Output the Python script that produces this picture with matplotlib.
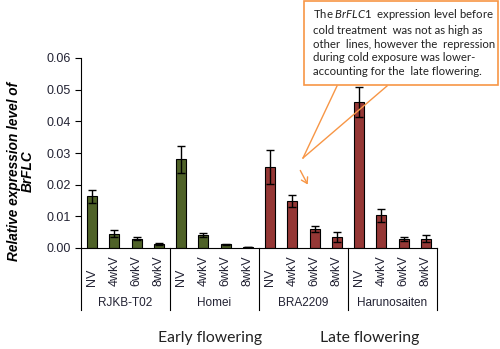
import matplotlib
matplotlib.use("Agg")
import matplotlib.pyplot as plt
import numpy as np
from matplotlib.lines import Line2D
from matplotlib.patches import Rectangle, FancyArrowPatch

plt.rcParams['mathtext.fontset'] = 'custom'
plt.rcParams['mathtext.it'] = 'Lato:italic'
plt.rcParams['mathtext.rm'] = 'Lato'

groups = ["RJKB-T02", "Homei", "BRA2209", "Harunosaiten"]
treatments = ["NV", "4wkV", "6wkV", "8wkV"]
values = [
    [0.0163, 0.0045, 0.0030, 0.0013],
    [0.0280, 0.0042, 0.0012, 0.0003],
    [0.0257, 0.0149, 0.0059, 0.0035],
    [0.0462, 0.0103, 0.0029, 0.0029],
]
errors = [
    [0.0020, 0.0011, 0.0006, 0.0003],
    [0.0043, 0.0006, 0.0002, 0.0001],
    [0.0054, 0.0018, 0.0010, 0.0015],
    [0.0047, 0.0020, 0.0006, 0.0011],
]
group_colors = ["#4F6228", "#4F6228", "#953735", "#953735"]
flowering = ["Early flowering", "Late flowering"]
annotation = ("The $\\it{BrFLC1}$  expression level before\n"
              "cold treatment  was not as high as\n"
              "other  lines, however the  repression\n"
              "during cold exposure was lower-\n"
              "accounting for the  late flowering.")

W, H = 500, 349
fig = plt.figure(figsize=(W/100, H/100), dpi=100)
ax = fig.add_axes([81/W, 1-248/H, (437-81)/W, (248-58)/H])

x = np.arange(16)
vals = np.array(values).ravel()
errs = np.array(errors).ravel()
cols = [c for c in group_colors for _ in treatments]
ax.bar(x, vals, width=0.45, color=cols, edgecolor='black', linewidth=0.8,
       yerr=errs, error_kw=dict(ecolor='black', elinewidth=1, capsize=3, capthick=1))

ax.set_xlim(-0.5, 15.5)
ax.set_ylim(0, 0.06)
ax.set_yticks(np.arange(0, 0.061, 0.01))
ax.set_yticklabels([f"{v:.2f}" for v in np.arange(0, 0.061, 0.01)],
                   fontfamily='Liberation Sans', fontsize=9, color='#222233')
ax.tick_params(axis='y', direction='out', length=4, width=0.8)
ax.set_xticks([])
for s in ['top', 'right']:
    ax.spines[s].set_visible(False)
ax.spines['left'].set_linewidth(0.8)
ax.spines['bottom'].set_linewidth(0.8)

tr = ax.get_xaxis_transform()
labels = [t for _ in groups for t in treatments]
for xi, lab in zip(x, labels):
    ax.text(xi, -0.2, lab, rotation=90, ha='center', va='bottom', fontsize=9,
            fontfamily='Liberation Sans', transform=tr, color='#222233')
for b in np.arange(-0.5, 16, 4):
    ax.add_line(Line2D([b, b], [0, -0.326], transform=tr, color='black',
                       linewidth=0.8, clip_on=False))
for gi, g in enumerate(groups):
    ax.text(gi*4 + 1.5, -0.29, g, ha='center', va='center', fontsize=8.5,
            fontfamily='Liberation Sans', transform=tr, color='#222233')

fig.text(210/W, 1-338/H, flowering[0], ha='center', va='center',
         fontsize=11.3, fontfamily='Lato', color='#222222')
fig.text(370/W, 1-338/H, flowering[1], ha='center', va='center',
         fontsize=11.3, fontfamily='Lato', color='#222222')

fig.text(21/W, 1-171/H, "Relative expression level of\nBrFLC", rotation=90,
         ha='center', va='center', fontsize=9.8, fontweight='bold', style='italic',
         fontfamily='Liberation Sans', linespacing=1.0)

orange = "#F79646"
fig.add_artist(Rectangle((304/W, 1-85/H), (498-304)/W, 84/H, transform=fig.transFigure,
                         facecolor='white', edgecolor=orange, linewidth=1.2))
fig.text(313/W, 1-42/H, annotation, ha='left', va='center', fontsize=8.2,
         fontfamily='Lato', color='#222222', linespacing=1.3)
fig.add_artist(Line2D([337/W, 303/W], [1-86/H, 1-158/H], transform=fig.transFigure,
                      color=orange, linewidth=1))
fig.add_artist(Line2D([387/W, 303/W], [1-86/H, 1-158/H], transform=fig.transFigure,
                      color=orange, linewidth=1))
fig.add_artist(FancyArrowPatch((299/W, 1-168/H), (309/W, 1-187/H), transform=fig.transFigure,
                               arrowstyle='->,head_length=4,head_width=2.5',
                               color=orange, linewidth=1))

fig.savefig("out.png", dpi=100, facecolor='white')
